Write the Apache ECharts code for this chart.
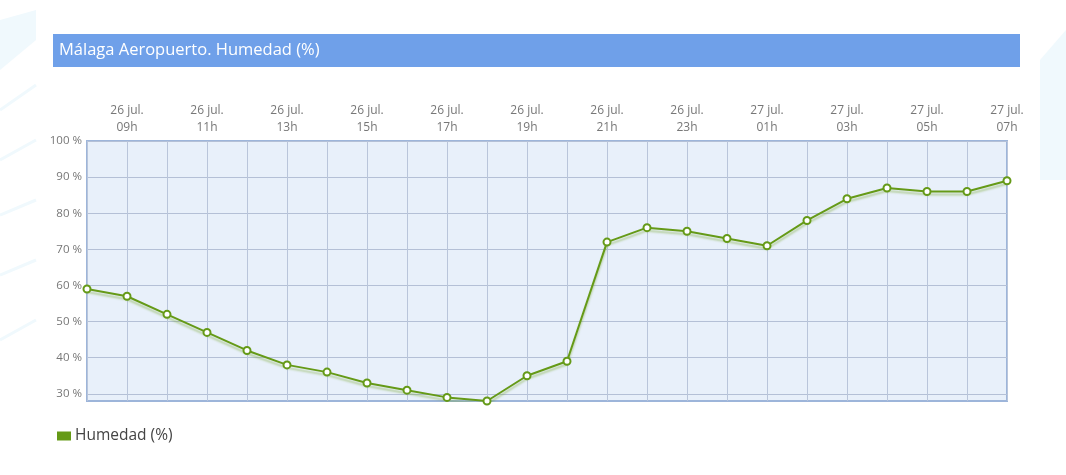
<!DOCTYPE html>
<html>
<head>
<meta charset="utf-8">
<script src="https://cdn.jsdelivr.net/npm/echarts@6/dist/echarts.min.js"></script>
<style>
html,body{margin:0;padding:0;background:#fff;}
#chart{width:1066px;height:475px;}
</style>
</head>
<body>
<div id="chart"></div>
<script>
// ---- data ----
const titleText = 'Málaga Aeropuerto. Humedad (%)';
const seriesName = 'Humedad (%)';
const days = ['26 jul.','26 jul.','26 jul.','26 jul.','26 jul.','26 jul.','26 jul.','26 jul.','26 jul.','26 jul.','26 jul.','26 jul.','26 jul.','26 jul.','26 jul.','26 jul.','27 jul.','27 jul.','27 jul.','27 jul.','27 jul.','27 jul.','27 jul.','27 jul.'];
const hours = ['08h','09h','10h','11h','12h','13h','14h','15h','16h','17h','18h','19h','20h','21h','22h','23h','00h','01h','02h','03h','04h','05h','06h','07h'];
const humidity = [59,57,52,47,42,38,36,33,31,29,28,35,39,72,76,75,73,71,78,84,87,86,86,89];
const yMin = 28, yMax = 100;

const categories = days.map((d, i) => d + '\n' + hours[i]);

const chart = echarts.init(document.getElementById('chart'), null, {renderer: 'canvas'});
const font = '"Open Sans", "Noto Sans", sans-serif';
const green = '#659a17';
const deco = '#f0f9fd';

chart.setOption({
  backgroundColor: '#ffffff',
  textStyle: {fontFamily: font},
  animation: false,
  graphic: [
    // faint decorative edges
    {type: 'polygon', silent: true, z: -10, shape: {points: [[0,20],[36,10],[36,40],[0,70]]}, style: {fill: deco}},
    {type: 'polyline', silent: true, z: -10, shape: {points: [[0,110],[36,85]]}, style: {stroke: deco, lineWidth: 3}},
    {type: 'polyline', silent: true, z: -10, shape: {points: [[0,160],[36,140]]}, style: {stroke: deco, lineWidth: 3}},
    {type: 'polyline', silent: true, z: -10, shape: {points: [[0,215],[36,200]]}, style: {stroke: deco, lineWidth: 3}},
    {type: 'polyline', silent: true, z: -10, shape: {points: [[0,275],[36,260]]}, style: {stroke: deco, lineWidth: 3}},
    {type: 'polyline', silent: true, z: -10, shape: {points: [[0,340],[36,320]]}, style: {stroke: deco, lineWidth: 3}},
    {type: 'polygon', silent: true, z: -10, shape: {points: [[1040,60],[1066,30],[1066,180],[1040,180]]}, style: {fill: deco}},
    // title bar
    {type: 'rect', silent: true, shape: {x: 53, y: 34, width: 967, height: 33}, style: {fill: '#6fa0e9'}},
    {type: 'text', silent: true, left: 59, top: 42, style: {text: titleText, fill: '#ffffff', font: '16.5px ' + font}}
  ],
  legend: {
    left: 52, top: 423,
    icon: 'rect', itemWidth: 14, itemHeight: 9, itemGap: 4,
    itemStyle: {color: green, borderWidth: 0},
    textStyle: {fontSize: 15.5, color: '#444', fontFamily: font, padding: [0,0,0,-1]},
    data: [seriesName]
  },
  grid: {
    left: 87, right: 59, top: 141, bottom: 74,
    show: true, backgroundColor: '#e8f0fa', borderColor: '#9db5da', borderWidth: 2
  },
  xAxis: {
    type: 'category', position: 'top', boundaryGap: false,
    data: categories,
    axisLine: {show: false}, axisTick: {show: false},
    axisLabel: {
      interval: (i) => i % 2 === 1,
      color: '#777', fontSize: 12, lineHeight: 17, margin: 5, fontFamily: font
    },
    splitLine: {show: true, interval: 0, lineStyle: {color: '#b9c5da', width: 1}}
  },
  yAxis: {
    type: 'value', min: yMin, max: yMax, interval: 2,
    axisLine: {show: false}, axisTick: {show: false},
    axisLabel: {
      formatter: (v) => (v % 10 === 0 ? v + ' %' : ''),
      color: '#777', fontSize: 11.5, margin: 5, fontFamily: font
    },
    splitLine: {show: true, lineStyle: {color: ['transparent','#b4c0d6','transparent','transparent','transparent'], width: 1}}
  },
  series: [{
    name: seriesName, type: 'line', data: humidity,
    symbol: 'circle', symbolSize: 7, showSymbol: true,
    itemStyle: {color: '#ffffff', borderColor: green, borderWidth: 2},
    lineStyle: {color: green, width: 2, shadowColor: 'rgba(110,160,30,0.4)', shadowBlur: 2, shadowOffsetY: 3},
    emphasis: {disabled: true},
    z: 5
  }],
  color: [green]
});
</script>
</body>
</html>
